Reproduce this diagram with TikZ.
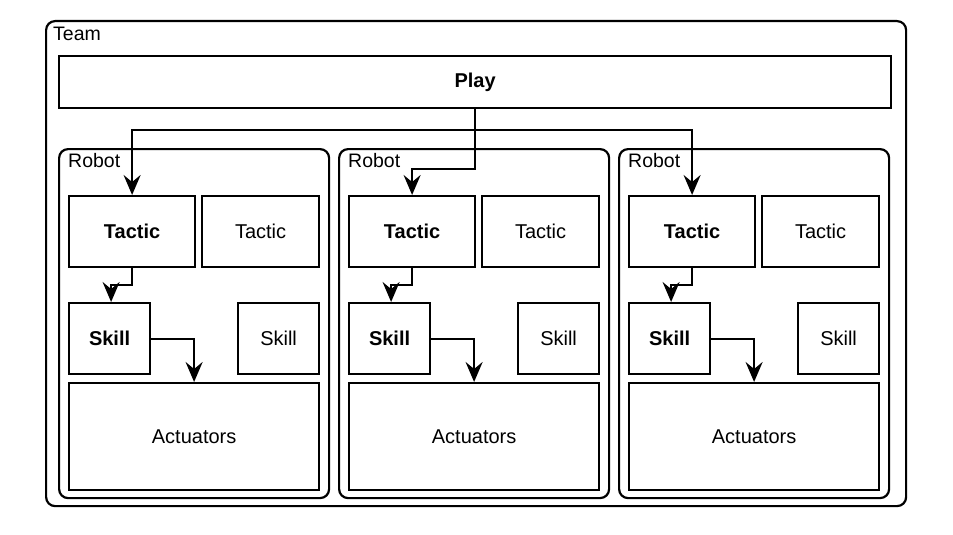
\documentclass[tikz,border=0pt]{standalone}
\usepackage{fontspec}
\setmainfont{Liberation Sans}
\usetikzlibrary{arrows.meta}
\tikzset{
  box/.style={draw, line width=2.2pt, inner sep=0pt, anchor=north west},
  group/.style={box, rounded corners=9pt},
  flow/.style={line width=2.2pt, -{Stealth[length=20pt,width=17pt,inset=7pt]}},
  lbl/.style={anchor=north west, inner sep=0pt, font=\fontsize{19.5}{22}\selectfont}
}
\begin{document}
\begin{tikzpicture}[x=1pt,y=-1pt, font=\fontsize{20}{24}\selectfont]
    \useasboundingbox (0,0) rectangle (953,535);
    % Team
    \node[group, minimum width=860pt, minimum height=485pt] (team) at (45,20) {};
    \node[lbl] (teamlbl) at (53,27) {Team};
    \node[box, minimum width=832pt, minimum height=52pt] (play) at (58,55) {\textbf{Play}};

    % Robots
    \foreach \i/\dx in {1/0,2/280,3/560} {
        \node[group, minimum width=270pt, minimum height=349pt] (robot\i) at (58+\dx,148) {};
        \node[lbl] (robotlbl\i) at (68+\dx,153) {Robot};
        \node[box, minimum width=126pt, minimum height=71pt] (tb\i) at (68+\dx,195) {\textbf{Tactic}};
        \node[box, minimum width=117pt, minimum height=71pt] (t\i) at (201+\dx,195) {Tactic};
        \node[box, minimum width=81pt, minimum height=71pt] (sb\i) at (68+\dx,302) {\textbf{Skill}};
        \node[box, minimum width=81pt, minimum height=71pt] (s\i) at (237+\dx,302) {Skill};
        \node[box, minimum width=250pt, minimum height=107pt] (act\i) at (68+\dx,382) {Actuators};
        \draw[flow] (tb\i.south) -- ++(0,17) -| ([xshift=1.5pt]sb\i.north);
        \draw[flow] (sb\i.east) -| (act\i.north);
    }

    % Play to tactics
    \draw[flow] (play.south) -- ++(0,21) -| (tb1.north);
    \draw[flow] (play.south) -- ++(0,21) -| (tb3.north);
    \draw[flow] (play.south) -- ++(0,60) -| (tb2.north);
\end{tikzpicture}
\end{document}
